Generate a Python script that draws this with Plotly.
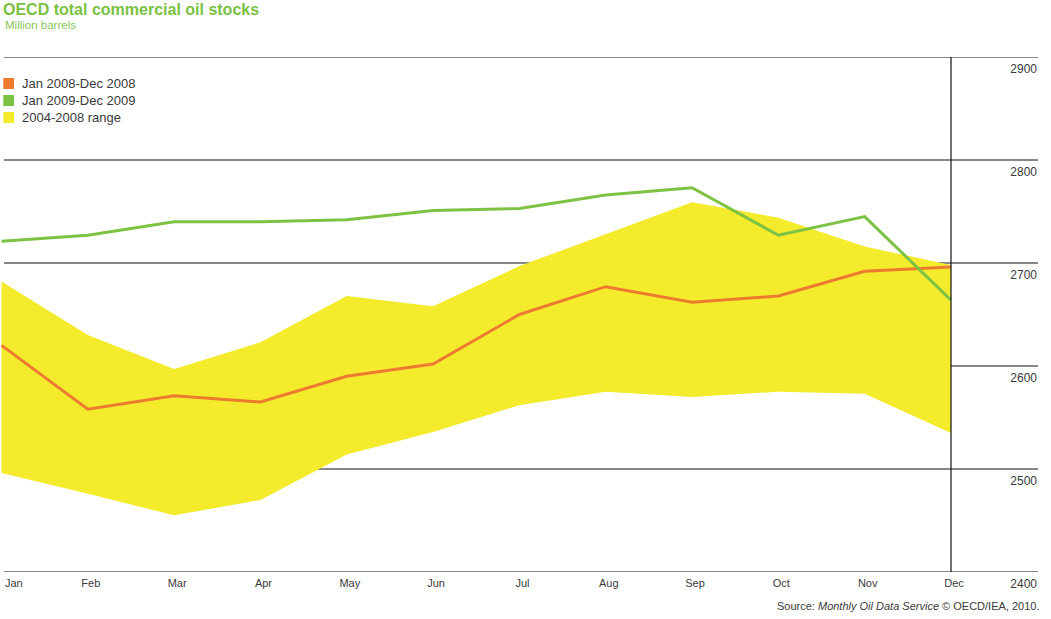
import plotly.graph_objects as go

months = ["Jan", "Feb", "Mar", "Apr", "May", "Jun", "Jul", "Aug", "Sep", "Oct", "Nov", "Dec"]
stocks_2008 = [2620, 2558, 2571, 2565, 2590, 2602, 2650, 2677, 2662, 2668, 2692, 2696]
stocks_2009 = [2721, 2727, 2740, 2740, 2742, 2751, 2753, 2766, 2773, 2727, 2745, 2664]
range_high = [2682, 2630, 2597, 2623, 2668, 2658, 2697, 2728, 2759, 2744, 2716, 2698]
range_low = [2496, 2476, 2455, 2470, 2514, 2536, 2562, 2575, 2570, 2575, 2573, 2535]
y_ticks = [2400, 2500, 2600, 2700, 2800, 2900]

ORANGE = "#EC7B30"
GREEN = "#7DC242"
YELLOW = "#F5EB2D"
TEXT = "#3a3a3a"
GRID = "#111111"
FONT = "Liberation Sans, Arial, sans-serif"

W, H = 1051, 619
ML, MR, MT, MB = 0, 13, 57, 47
PW, PH = W - ML - MR, H - MT - MB

xpos = list(range(len(months)))

fig = go.Figure()
fig.add_trace(go.Scatter(x=xpos, y=range_low, mode="lines", line=dict(width=0),
                         showlegend=False, hoverinfo="skip"))
fig.add_trace(go.Scatter(x=xpos, y=range_high, mode="lines", line=dict(width=0),
                         fill="tonexty", fillcolor=YELLOW, showlegend=False))
fig.add_trace(go.Scatter(x=xpos, y=stocks_2008, mode="lines",
                         line=dict(color=ORANGE, width=3), showlegend=False))
fig.add_trace(go.Scatter(x=xpos, y=stocks_2009, mode="lines",
                         line=dict(color=GREEN, width=3), showlegend=False))

px_per_month = (951 - 1.5) / 11
x0 = -1.5 / px_per_month
x1 = (PW - 1.5) / px_per_month


def px_x(p):
    return (p - ML) / PW


def px_y(p):
    return 1 - (p - MT) / PH


shapes = []
for v in y_ticks:
    if v == 2600:
        shapes.append(dict(type="line", xref="x", yref="y", x0=11, x1=x1, y0=v, y1=v,
                           line=dict(color=GRID, width=1.2), layer="below"))
    else:
        shapes.append(dict(type="line", xref="paper", yref="y", x0=px_x(4), x1=1, y0=v, y1=v,
                           line=dict(color=GRID, width=1.2),
                           layer="above" if v in (2400, 2900) else "below"))
shapes.append(dict(type="line", xref="x", yref="paper", x0=11, x1=11, y0=0, y1=1,
                   line=dict(color=GRID, width=1.2), layer="above"))
annotations = []

legend_items = [("Jan 2008-Dec 2008", ORANGE), ("Jan 2009-Dec 2009", GREEN), ("2004-2008 range", YELLOW)]
for i, (label, col) in enumerate(legend_items):
    cy = 83.5 + 17 * i
    shapes.append(dict(type="rect", xref="paper", yref="paper",
                       x0=px_x(3.3), x1=px_x(14), y0=px_y(cy + 5.5), y1=px_y(cy - 5.5),
                       fillcolor=col, line=dict(width=0), layer="above"))
    annotations.append(dict(text=label, xref="paper", yref="paper", x=px_x(19.5), y=px_y(cy),
                            xanchor="left", yanchor="middle", showarrow=False,
                            font=dict(family=FONT, size=13, color=TEXT)))

annotations += [
    dict(text="<b>OECD total commercial oil stocks</b>", xref="paper", yref="paper",
         x=px_x(1), y=px_y(9), xanchor="left", yanchor="middle", showarrow=False,
         font=dict(family=FONT, size=16, color="#7AC143")),
    dict(text="Million barrels", xref="paper", yref="paper",
         x=px_x(2.5), y=px_y(25), xanchor="left", yanchor="middle", showarrow=False,
         font=dict(family=FONT, size=11.5, color="#86C65A")),
    dict(text="Source: <i>Monthly Oil Data Service</i> © OECD/IEA, 2010.", xref="paper", yref="paper",
         x=px_x(1041), y=px_y(606), xanchor="right", yanchor="middle", showarrow=False,
         font=dict(family=FONT, size=11, color=TEXT)),
    dict(text=months[0], xref="x", yref="paper", x=0, y=px_y(583),
         xanchor="left", yanchor="middle", xshift=1, showarrow=False,
         font=dict(family=FONT, size=11, color=TEXT)),
]

fig.update_layout(
    width=W, height=H,
    margin=dict(l=ML, r=MR, t=MT, b=MB, pad=0),
    paper_bgcolor="white", plot_bgcolor="white",
    showlegend=False,
    shapes=shapes, annotations=annotations,
    xaxis=dict(range=[x0, x1], tickmode="array", tickvals=xpos[1:], ticktext=months[1:],
               showgrid=False, zeroline=False, showline=False,
               ticks="", tickfont=dict(family=FONT, size=11, color=TEXT),
               ticklabelshift=3, ticklabelstandoff=3, fixedrange=True),
    yaxis=dict(range=[2400, 2900], side="right", tickmode="array", tickvals=y_ticks,
               ticktext=[str(v) for v in y_ticks], showgrid=False,
               zeroline=False, showline=False, ticks="", ticklabelposition="inside",
               ticklabeloverflow="allow", ticklabelshift=12, ticklabelstandoff=-2,
               tickfont=dict(family=FONT, size=12, color=TEXT), fixedrange=True),
)

fig.write_html("out.html")
